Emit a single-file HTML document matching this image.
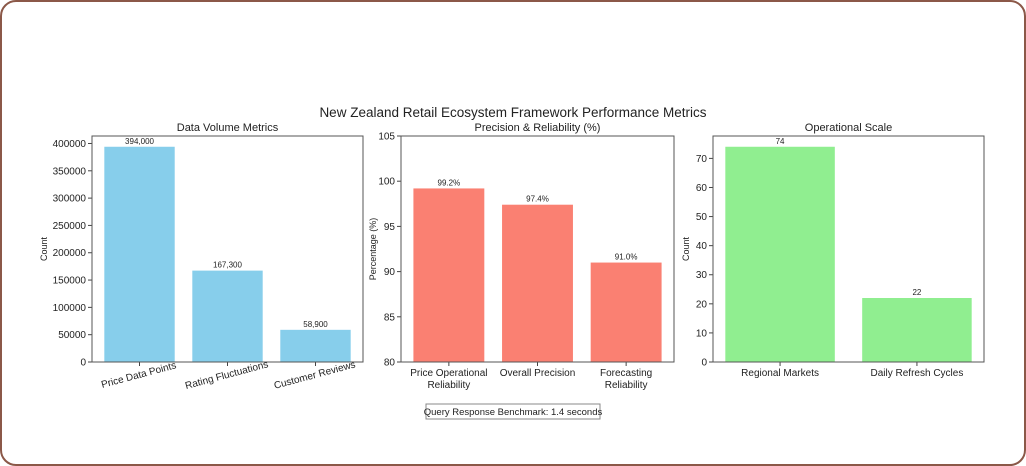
<!DOCTYPE html>
<html><head><meta charset="utf-8"><style>
html,body{margin:0;padding:0;background:#fff;}
#frame{position:absolute;left:0;top:0;width:1022px;height:462px;border:2px solid #8b5848;border-radius:16px;background:#fff;}
svg{position:absolute;left:0;top:0;}
text{font-family:"Liberation Sans",sans-serif;fill:#222;}
</style></head><body>
<div id="frame"></div>
<svg id="c" width="1026" height="466">
<text x="513" y="117" font-size="13.5" text-anchor="middle">New Zealand Retail Ecosystem Framework Performance Metrics</text>
<g>
<rect x="426" y="404" width="174" height="15" fill="#fff" stroke="#888" stroke-width="1"></rect>
<text x="513" y="415" font-size="9.5" text-anchor="middle">Query Response Benchmark: 1.4 seconds</text>
</g>
</svg>
<script>
const volCats=["Price Data Points","Rating Fluctuations","Customer Reviews"];
const volVals=[394000,167300,58900];
const volLabels=["394,000","167,300","58,900"];
const volTicks=[0,50000,100000,150000,200000,250000,300000,350000,400000];
const precCats=[["Price Operational","Reliability"],["Overall Precision"],["Forecasting","Reliability"]];
const precVals=[99.2,97.4,91.0];
const precLabels=["99.2%","97.4%","91.0%"];
const precTicks=[80,85,90,95,100,105];
const opCats=["Regional Markets","Daily Refresh Cycles"];
const opVals=[74,22];
const opLabels=["74","22"];
const opTicks=[0,10,20,30,40,50,60,70];

const svg=document.getElementById('c');
const NS='http://www.w3.org/2000/svg';
function mk(t,a,p){const e=document.createElementNS(NS,t);for(const k in a)e.setAttribute(k,a[k]);(p||svg).appendChild(e);return e;}

function panel(o){
  const {x0,x1,y0,y1,ymin,ymax,cats,vals,labels,ticks,color,title,ylabel,rot,name}=o;
  const g=mk('g',{});
  
  
  const n=vals.length, lo=-0.4-(n-0.2)*0.05, hi=n-1+0.4+(n-0.2)*0.05;
  const X=v=>x0+(v-lo)/(hi-lo)*(x1-x0);
  const Y=v=>y1-(v-ymin)/(ymax-ymin)*(y1-y0);
  vals.forEach((v,i)=>{
    const r=mk('rect',{x:X(i-0.4),y:Y(v),width:X(i+0.4)-X(i-0.4),height:y1-Y(v),fill:color},g);
    
    
    const t=mk('text',{x:X(i),y:Y(v)-3,'font-size':8,'text-anchor':'middle'},g);t.textContent=labels[i];
    
    
    mk('line',{x1:X(i),x2:X(i),y1:y1,y2:y1+4,stroke:'#444'},g);
    const c=cats[i];
    if(rot){
      const tx=X(i), ty=y1+16;
      const lt=mk('text',{x:tx,y:ty,'font-size':10,'text-anchor':'middle',transform:`rotate(-15 ${tx} ${ty})`},g);
      lt.textContent=c;
      
      
    } else {
      const lines=Array.isArray(c)?c:[c];
      lines.forEach((s,j)=>{const lt=mk('text',{x:X(i),y:y1+14+j*12,'font-size':10,'text-anchor':'middle'},g);lt.textContent=s;
        
        });
    }
  });
  ticks.forEach(t=>{
    const y=Y(t);
    mk('line',{x1:x0-4,x2:x0,y1:y,y2:y,stroke:'#444'},g);
    const tt=mk('text',{x:x0-6,y:y+3.5,'font-size':10,'text-anchor':'end'},g);tt.textContent=t;
    
    
  });
  mk('rect',{x:x0,y:y0,width:x1-x0,height:y1-y0,fill:'none',stroke:'#555','stroke-width':1},g);
  const ti=mk('text',{x:(x0+x1)/2,y:y0-5,'font-size':11,'text-anchor':'middle'},g);ti.textContent=title;
  
  
  const yl=mk('text',{x:0,y:0,'font-size':9,'text-anchor':'middle',transform:`translate(${o.ylx},${(y0+y1)/2}) rotate(-90)`},g);yl.textContent=ylabel;
  
  
}
panel({name:'volume',x0:92,x1:363,y0:136,y1:362,ymin:0,ymax:394000*1.05,cats:volCats,vals:volVals,labels:volLabels,ticks:volTicks,color:'#87ceeb',title:'Data Volume Metrics',ylabel:'Count',rot:true,ylx:47});
panel({name:'precision',x0:401,x1:674,y0:136,y1:362,ymin:80,ymax:105,cats:precCats,vals:precVals,labels:precLabels,ticks:precTicks,color:'#fa8072',title:'Precision & Reliability (%)',ylabel:'Percentage (%)',rot:false,ylx:376});
panel({name:'operational',x0:713,x1:984,y0:136,y1:362,ymin:0,ymax:74*1.05,cats:opCats,vals:opVals,labels:opLabels,ticks:opTicks,color:'#90ee90',title:'Operational Scale',ylabel:'Count',rot:false,ylx:689});
</script>
</body></html>
